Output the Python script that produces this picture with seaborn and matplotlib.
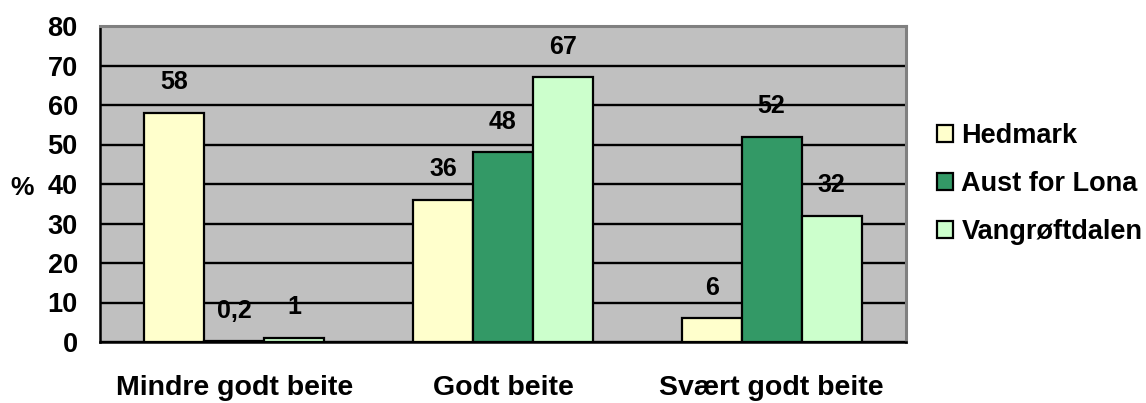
import matplotlib
matplotlib.use("Agg")
import matplotlib.pyplot as plt
import seaborn as sns
import pandas as pd

categories = ["Mindre godt beite", "Godt beite", "Svært godt beite"]
regions = ["Hedmark", "Aust for Lona", "Vangrøftdalen"]
hedmark = [58, 36, 6]
aust_for_lona = [0.2, 48, 52]
vangroftdalen = [1, 67, 32]
y_ticks = [0, 10, 20, 30, 40, 50, 60, 70, 80]
colors = ["#FFFFCC", "#339966", "#CCFFCC"]

rows = []
for reg, vals in zip(regions, [hedmark, aust_for_lona, vangroftdalen]):
    for cat, v in zip(categories, vals):
        rows.append({"cat": cat, "region": reg, "val": v})
df = pd.DataFrame(rows)

sns.set_style("white")
plt.rcParams["font.family"] = ["Liberation Sans", "DejaVu Sans"]
plt.rcParams["font.weight"] = "bold"
plt.rcParams["text.color"] = "black"
plt.rcParams["xtick.color"] = "black"
plt.rcParams["ytick.color"] = "black"
plt.rcParams["axes.labelcolor"] = "black"

fig = plt.figure(figsize=(11.46, 4.03), dpi=100)
ax = fig.add_axes([100 / 1146, 1 - 342 / 403, 806 / 1146, 316 / 403])
ax.set_facecolor("#C0C0C0")

sns.barplot(data=df, x="cat", y="val", hue="region", order=categories,
            hue_order=regions, palette=colors, width=0.67, gap=0,
            edgecolor="black", linewidth=1.6, saturation=1, ax=ax, zorder=3)

ax.set_ylim(0, 80)
ax.set_xlim(-0.5, 2.5)
ax.set_yticks(y_ticks)
ax.set_yticklabels([str(t) for t in y_ticks], fontsize=19.5, fontweight="bold")
ax.yaxis.grid(True, color="black", linewidth=1.7, zorder=0)
ax.set_axisbelow(True)

ax.set_xticks(range(len(categories)))
ax.set_xticklabels(categories, fontsize=20.5, fontweight="bold")
ax.tick_params(axis="x", which="major", length=0, pad=24)
ax.set_xticks([-0.5, 0.5, 1.5, 2.5], minor=True)
ax.tick_params(axis="x", which="minor", length=7, width=1.6, color="black", direction="out")
ax.tick_params(axis="y", length=7, width=1.6, color="black", direction="out", pad=9)

ax.set_xlabel("")
ax.set_ylabel("%", rotation=0, fontsize=19, fontweight="bold", va="center", ha="center")
ax.yaxis.set_label_coords(-0.097, 0.487)

for s in ["left", "bottom"]:
    ax.spines[s].set_color("black")
    ax.spines[s].set_linewidth(1.8)
for s in ["top", "right"]:
    ax.spines[s].set_color("#808080")
    ax.spines[s].set_linewidth(2.2)
ax.spines["bottom"].set_zorder(4)

for cont, vals in zip(ax.containers, [hedmark, aust_for_lona, vangroftdalen]):
    for bar, v in zip(cont, vals):
        lbl = f"{v:g}".replace(".", ",")
        ax.annotate(lbl, (bar.get_x() + bar.get_width() / 2, bar.get_height()),
                    xytext=(0, 22), textcoords="offset points", ha="center",
                    va="center", fontsize=18, fontweight="bold", zorder=5)

handles, labels = ax.get_legend_handles_labels()
ax.legend(handles, labels, loc="center left", bbox_to_anchor=(937 / 1146, 1 - 184 / 403),
          bbox_transform=fig.transFigure, frameon=False, borderpad=0, borderaxespad=0,
          handlelength=0.6, handleheight=0.6, handletextpad=0.3, labelspacing=0.8,
          prop={"size": 19.5, "weight": "bold"})

fig.savefig("out.png", dpi=100)
